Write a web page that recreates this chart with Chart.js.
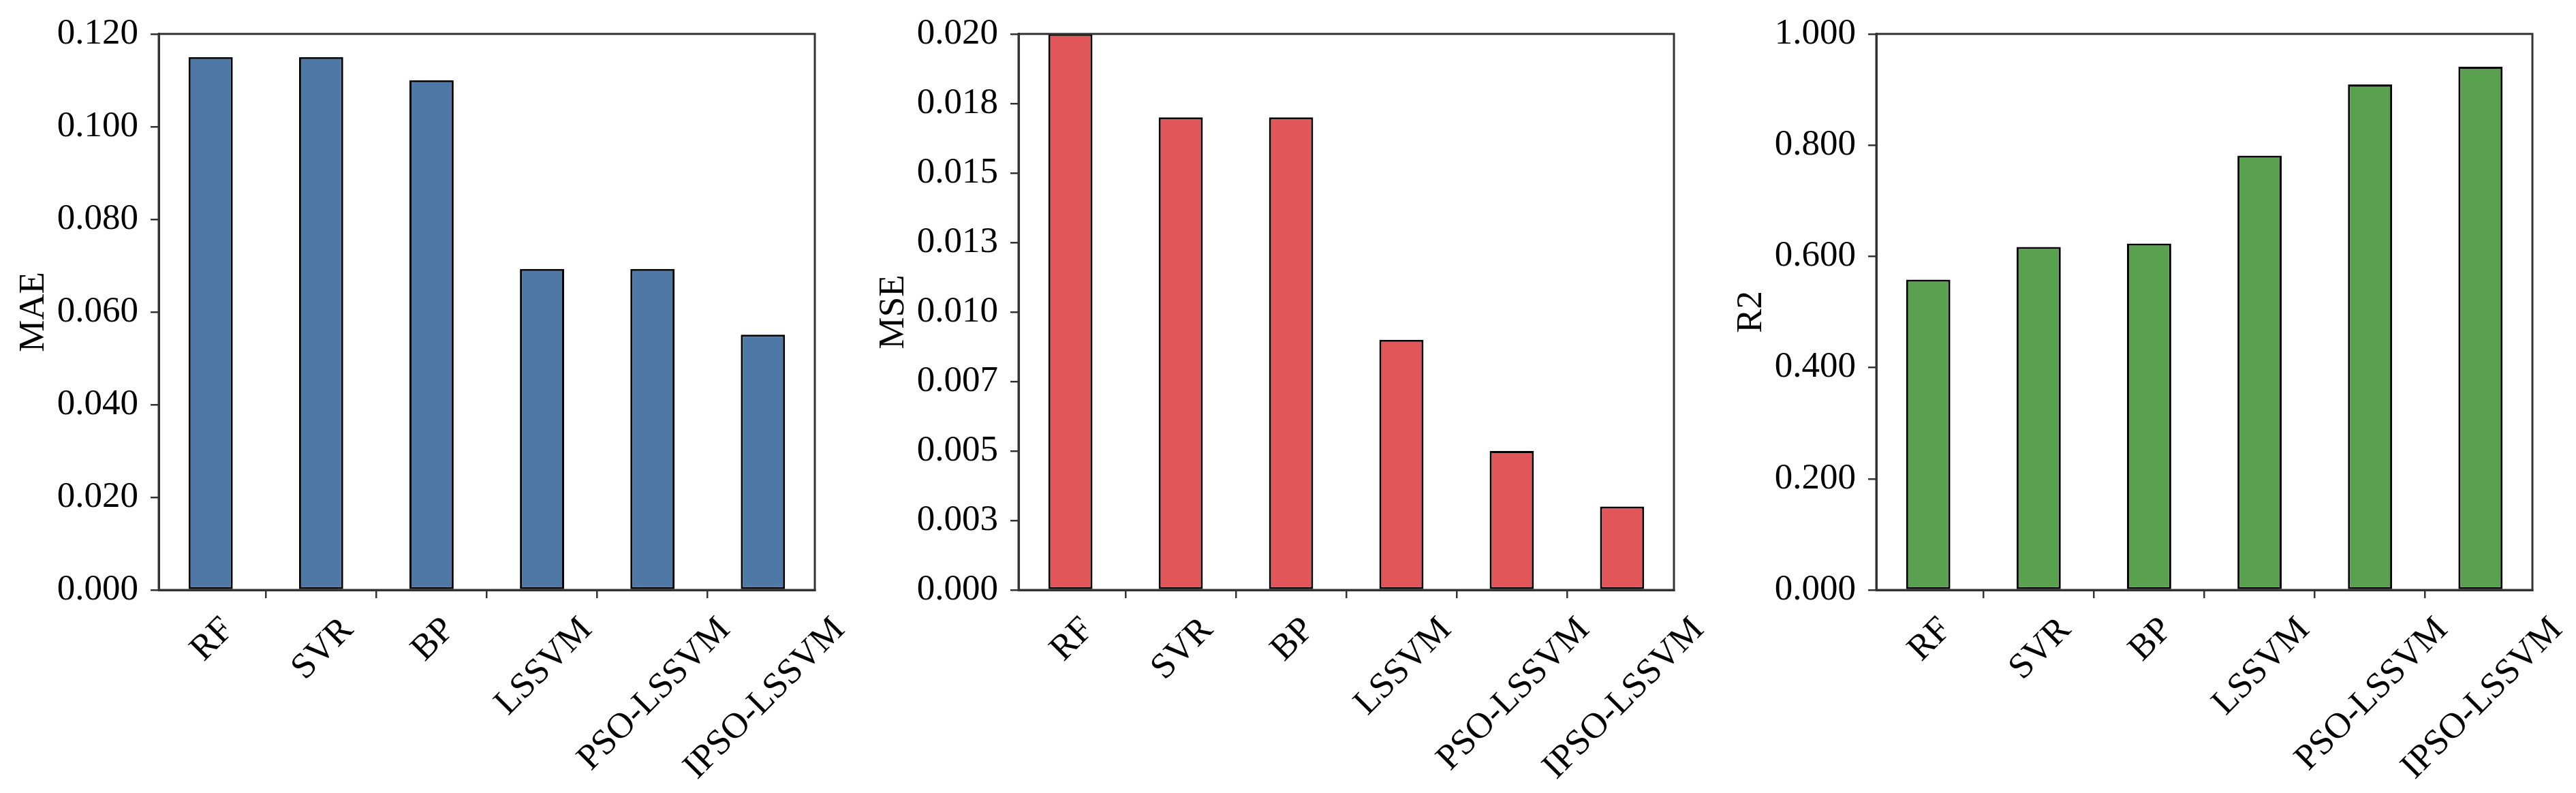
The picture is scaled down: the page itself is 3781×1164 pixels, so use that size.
<!DOCTYPE html>
<html><head><meta charset="utf-8">
<script src="https://cdn.jsdelivr.net/npm/chart.js@4.4.0/dist/chart.umd.min.js"></script>
<style>
html,body{margin:0;padding:0;background:#fff;}
body{width:3781px;height:1164px;position:relative;overflow:hidden;}
.p{position:absolute;top:0;height:1164px;}
</style></head><body>
<div class="p" style="left:0px;width:1300px"><canvas id="c1"></canvas></div>
<div class="p" style="left:1262px;width:1300px"><canvas id="c2"></canvas></div>
<div class="p" style="left:2521px;width:1260px"><canvas id="c3"></canvas></div>
<script>
const categories = ['RF', 'SVR', 'BP', 'LSSVM', 'PSO-LSSVM', 'IPSO-LSSVM'];
const maeValues = [0.1150, 0.1150, 0.1100, 0.0693, 0.0693, 0.0551];
const mseValues = [0.0200, 0.0170, 0.0170, 0.0090, 0.0050, 0.0030];
const r2Values = [0.558, 0.617, 0.623, 0.781, 0.909, 0.941];
const maeTicks = [0, 0.02, 0.04, 0.06, 0.08, 0.10, 0.12];
const maeTickLabels = ['0.000', '0.020', '0.040', '0.060', '0.080', '0.100', '0.120'];
const mseTicks = [0, 0.0025, 0.005, 0.0075, 0.01, 0.0125, 0.015, 0.0175, 0.02];
const mseTickLabels = ['0.000', '0.003', '0.005', '0.007', '0.010', '0.013', '0.015', '0.018', '0.020'];
const r2Ticks = [0, 0.2, 0.4, 0.6, 0.8, 1.0];
const r2TickLabels = ['0.000', '0.200', '0.400', '0.600', '0.800', '1.000'];

const FONT = '"Liberation Serif", "Times New Roman", serif';
const FS = 53;
const AXC = '#333333';

const framePlugin = {
  id: 'frame',
  afterDatasetsDraw(chart) {
    const {ctx, chartArea: a} = chart;
    ctx.save();
    ctx.strokeStyle = AXC;
    ctx.lineWidth = 3;
    ctx.strokeRect(a.left, a.top, a.right - a.left, a.bottom - a.top);
    ctx.restore();
  }
};

const xLabelPlugin = {
  id: 'xlabels',
  afterDraw(chart) {
    const {ctx, chartArea, scales} = chart;
    const x = scales.x;
    ctx.save();
    ctx.font = FS + 'px ' + FONT;
    ctx.fillStyle = '#000';
    ctx.textAlign = 'center';
    ctx.textBaseline = 'alphabetic';
    const top = chartArea.bottom + 27;
    categories.forEach((c, i) => {
      const m = ctx.measureText(c);
      const asc = m.fontBoundingBoxAscent || FS * 0.89;
      const desc = m.fontBoundingBoxDescent || FS * 0.22;
      const h = asc + desc;
      const d = (m.width + h) * Math.SQRT1_2;
      const cx = x.getPixelForValue(i);
      const cy = top + d / 2;
      ctx.save();
      ctx.translate(cx, cy);
      ctx.rotate(-Math.PI / 4);
      ctx.fillText(c, 0, (asc - desc) / 2);
      ctx.restore();
    });
    ctx.restore();
  }
};

function makeChart(id, title, values, color, ticks, tickLabels, rightPad) {
  return new Chart(document.getElementById(id), {
    type: 'bar',
    data: {
      datasets: [{
        data: values.map((v, i) => ({x: i, y: v})),
        backgroundColor: color,
        borderColor: '#000',
        borderWidth: 3,
        borderSkipped: false,
        barPercentage: 0.4,
        categoryPercentage: 1
      }]
    },
    options: {
      responsive: true,
      maintainAspectRatio: false,
      animation: false,
      devicePixelRatio: 1,
      layout: {padding: {top: 42, left: 0, right: rightPad, bottom: 0}},
      plugins: {legend: {display: false}, tooltip: {enabled: false}},
      scales: {
        x: {
          type: 'linear',
          min: -0.47,
          max: 5.47,
          offset: false,
          afterBuildTicks: s => { s.ticks = categories.map((c, i) => ({value: i})); },
          afterFit: s => { s.height = 298; },
          ticks: {display: false},
          grid: {drawOnChartArea: false, drawTicks: true, tickLength: 12, lineWidth: 2.5, tickWidth: 2.5, tickColor: AXC, color: AXC},
          border: {display: true, color: AXC, width: 3}
        },
        y: {
          min: ticks[0],
          max: ticks[ticks.length - 1],
          afterBuildTicks: s => { s.ticks = ticks.map(v => ({value: v})); },
          afterFit: s => { s.width = 233; },
          ticks: {
            autoSkip: false,
            callback: (v, i) => tickLabels[i],
            color: '#000',
            font: {family: FONT, size: FS},
            padding: 18
          },
          grid: {drawOnChartArea: false, drawTicks: true, tickLength: 12, lineWidth: 2.5, tickWidth: 2.5, tickColor: AXC, color: AXC},
          border: {display: true, color: AXC, width: 3},
          title: {display: true, text: title, color: '#000', font: {family: FONT, size: FS}, padding: {top: 18, bottom: 0}}
        }
      }
    },
    plugins: [framePlugin, xLabelPlugin]
  });
}

makeChart('c1', 'MAE', maeValues, '#4e79a7', maeTicks, maeTickLabels, 104);
makeChart('c2', 'MSE', mseValues, '#e15759', mseTicks, mseTickLabels, 105);
makeChart('c3', 'R2', r2Values, '#59a14f', r2Ticks, r2TickLabels, 64);
</script>
</body></html>
